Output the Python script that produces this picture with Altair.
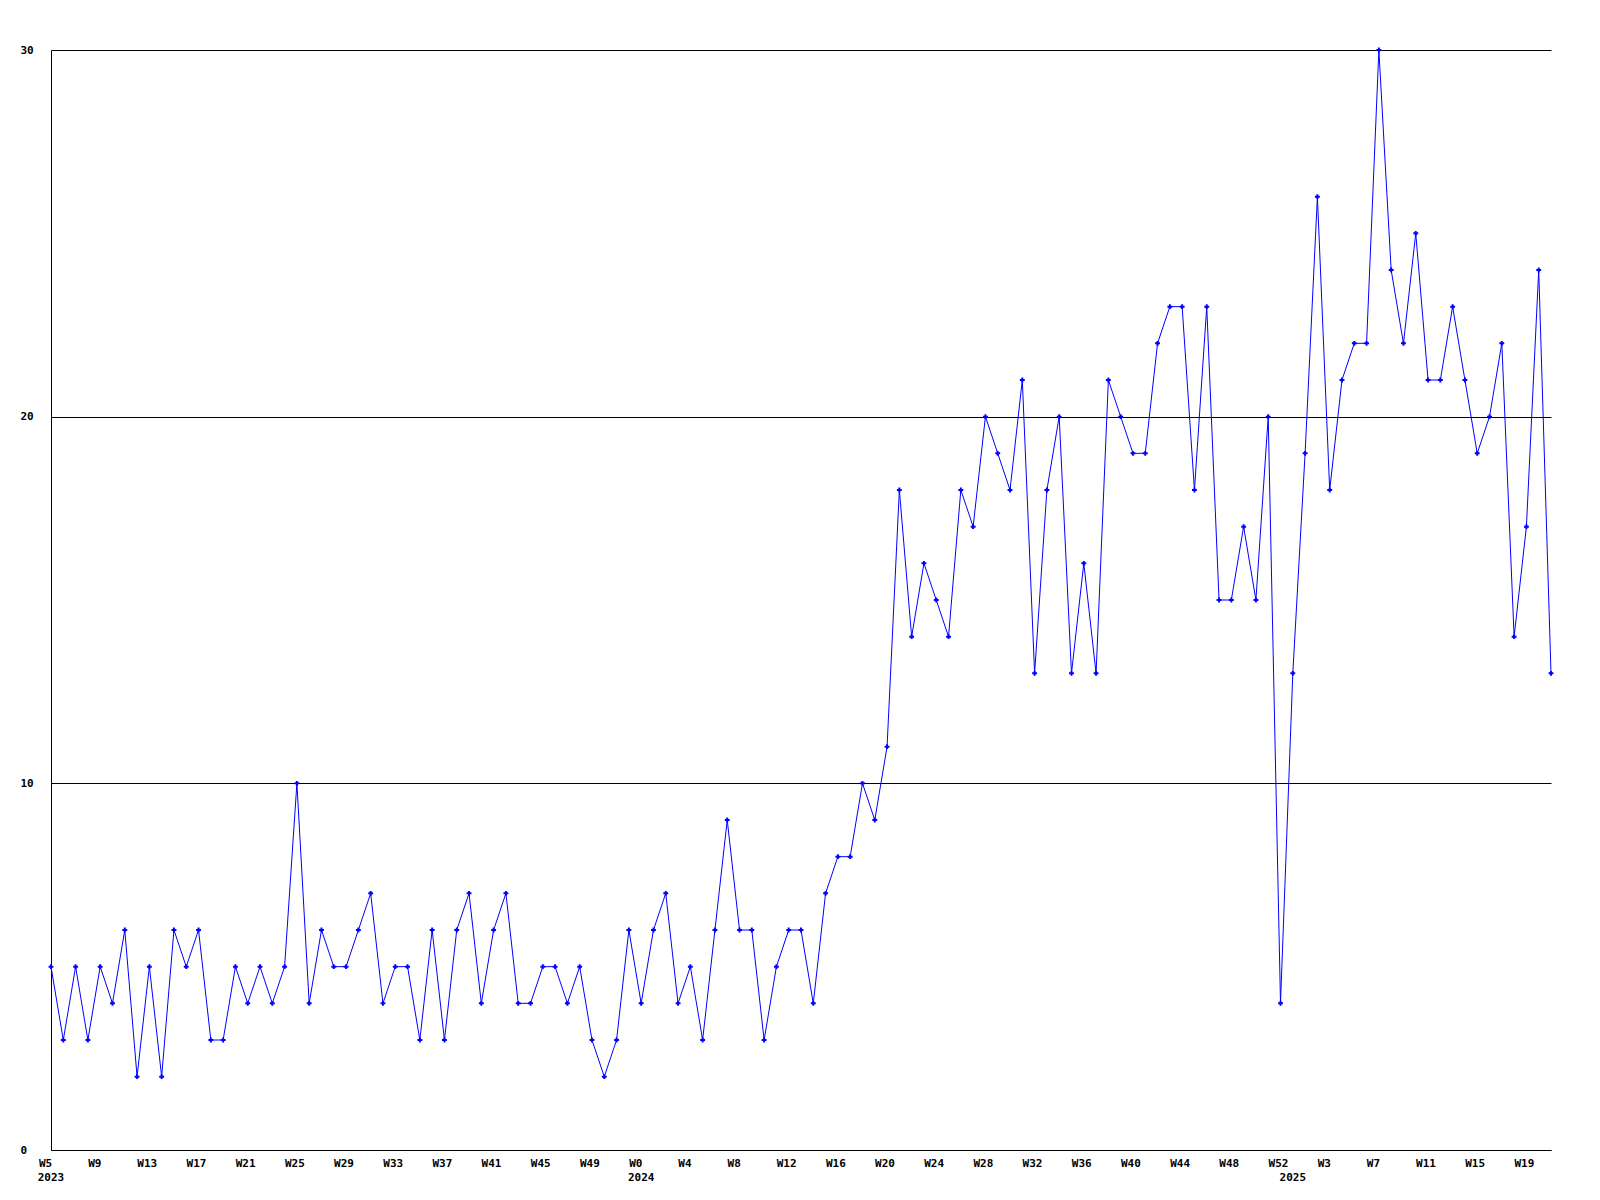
import altair as alt
import pandas as pd

# weekly values, W5 2023 ... W21 2025
weekly_counts = [
    5, 3, 5, 3, 5, 4, 6, 2, 5, 2,
    6, 5, 6, 3, 3, 5, 4, 5, 4, 5,
    10, 4, 6, 5, 5, 6, 7, 4, 5, 5,
    3, 6, 3, 6, 7, 4, 6, 7, 4, 4,
    5, 5, 4, 5, 3, 2, 3, 6, 4, 6,
    7, 4, 5, 3, 6, 9, 6, 6, 3, 5,
    6, 6, 4, 7, 8, 8, 10, 9, 11, 18,
    14, 16, 15, 14, 18, 17, 20, 19, 18, 21,
    13, 18, 20, 13, 16, 13, 21, 20, 19, 19,
    22, 23, 23, 18, 23, 15, 15, 17, 15, 20,
    4, 13, 19, 26, 18, 21, 22, 22, 30, 24,
    22, 25, 21, 21, 23, 21, 19, 20, 22, 14,
    17, 24, 13,
]

# every 4th week is labelled
tick_labels = ["W5", "W9", "W13", "W17", "W21", "W25", "W29", "W33", "W37", "W41",
               "W45", "W49", "W0", "W4", "W8", "W12", "W16", "W20", "W24", "W28",
               "W32", "W36", "W40", "W44", "W48", "W52", "W3", "W7", "W11", "W15", "W19"]
tick_step = 4

years = ["2023", "2024", "2025"]
year_first_week_index = [0, 48, 101]

y_ticks = [0, 10, 20, 30]

FONT = "DejaVu Sans Mono"

df = pd.DataFrame({"i": list(range(len(weekly_counts))), "v": weekly_counts})
wk_df = pd.DataFrame({"i": [k * tick_step for k in range(len(tick_labels))], "t": tick_labels})
yr_df = pd.DataFrame({"i": year_first_week_index, "t": years})

xs = alt.Scale(domain=[0, len(weekly_counts) - 1], nice=False, zero=False)
ys = alt.Scale(domain=[0, 30], nice=False)

base = alt.Chart(df)
line = base.mark_line(color="#0000ff", strokeWidth=1).encode(
    x=alt.X("i:Q", scale=xs,
            axis=alt.Axis(labels=False, ticks=False, grid=False, domain=True,
                          domainColor="black", domainWidth=1, title=None)),
    y=alt.Y("v:Q", scale=ys,
            axis=alt.Axis(values=y_ticks, grid=True, gridColor="black", gridOpacity=1,
                          gridWidth=1, ticks=False, tickSize=0, domain=True,
                          domainColor="black", domainWidth=1,
                          labelAlign="left", labelPadding=31, labelFont=FONT,
                          labelFontSize=11, labelFontWeight="bold", labelColor="black",
                          title=None)),
)
pts = base.mark_point(shape="cross", filled=True, size=24, color="#0000ff", opacity=1).encode(
    x="i:Q", y="v:Q"
)
wk = alt.Chart(wk_df).mark_text(align="left", baseline="alphabetic", dx=-12, font=FONT,
                                fontSize=11, fontWeight="bold", color="black").encode(
    x=alt.X("i:Q", scale=xs), y=alt.value(1117), text="t:N"
)
yr = alt.Chart(yr_df).mark_text(align="center", baseline="alphabetic", font=FONT,
                                fontSize=11, fontWeight="bold", color="black").encode(
    x=alt.X("i:Q", scale=xs), y=alt.value(1131), text="t:N"
)

chart = alt.layer(line, pts, wk, yr).properties(
    width=1500, height=1100,
    padding={"left": 43, "top": 42, "right": 40, "bottom": 40},
    autosize=alt.AutoSizeParams(type="none"),
).configure_view(stroke=None)

chart.save("out.html", embed_options={"renderer": "svg", "actions": False})
